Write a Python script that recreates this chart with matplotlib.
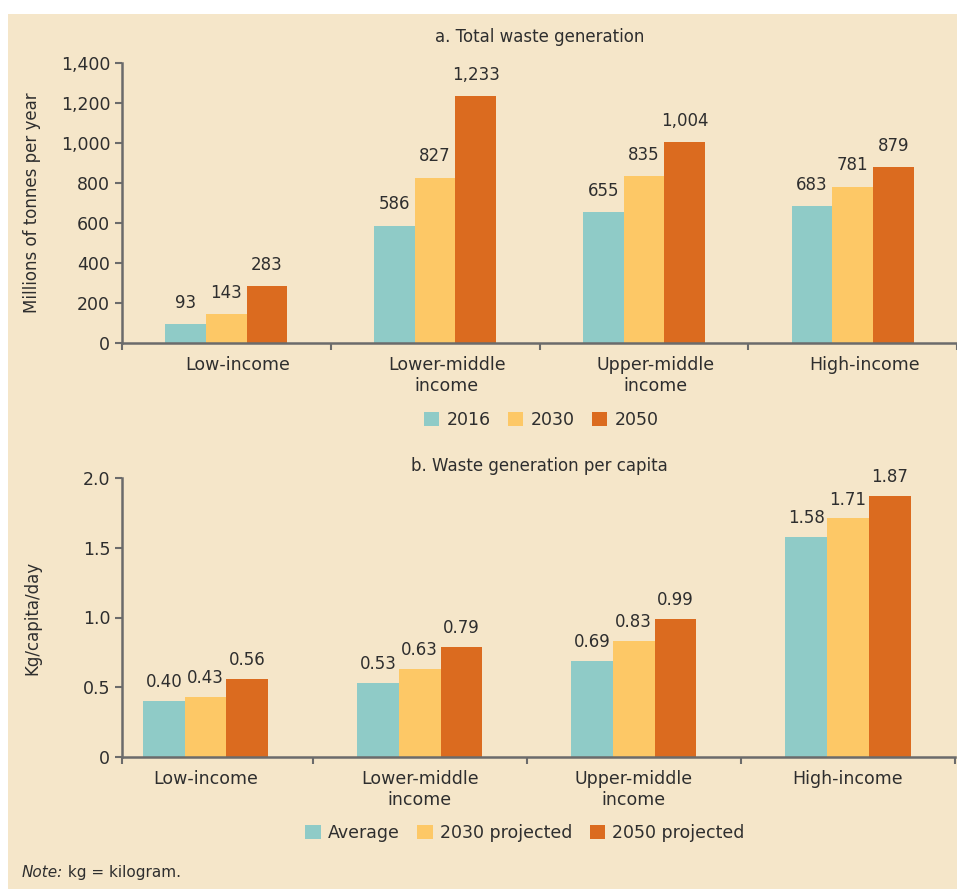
import numpy as np
import matplotlib
matplotlib.use("Agg")
import matplotlib.pyplot as plt
from matplotlib.patches import Rectangle
from matplotlib.ticker import FuncFormatter

# data
groups_top = ["Low-income", "Lower-middle\nincome", "Upper-middle\nincome", "High-income"]
total_2016 = [93, 586, 655, 683]
total_2030 = [143, 827, 835, 781]
total_2050 = [283, 1233, 1004, 879]
top_series = ["2016", "2030", "2050"]

groups_bottom = ["Low-income", "Lower-middle\nincome", "Upper-middle\nincome", "High-income"]
pc_avg = [0.40, 0.53, 0.69, 1.58]
pc_2030 = [0.43, 0.63, 0.83, 1.71]
pc_2050 = [0.56, 0.79, 0.99, 1.87]
bottom_series = ["Average", "2030 projected", "2050 projected"]

colors = ["#8fcbc7", "#fdc866", "#db6b1f"]
beige = "#f5e6c9"
text_c = "#2e2e2e"
axis_c = "#6b6b6b"

plt.rcParams["font.family"] = "DejaVu Sans"
plt.rcParams["text.color"] = text_c

W, H = 957, 889
fig = plt.figure(figsize=(9.57, 8.89), dpi=100, facecolor="white")
fig.patches.append(Rectangle((8 / W, 0), 1, 1 - 14 / H, transform=fig.transFigure,
                             facecolor=beige, edgecolor="none", zorder=-10))

ax1 = fig.add_axes([122 / W, 1 - 343 / H, (957 - 122) / W, (343 - 63) / H])
ax2 = fig.add_axes([122 / W, 1 - 757 / H, (955 - 122) / W, (757 - 478) / H])

bw = 0.195


def style(ax):
    ax.set_facecolor("none")
    for s in ["top", "right"]:
        ax.spines[s].set_visible(False)
    for s in ["left", "bottom"]:
        ax.spines[s].set_color(axis_c)
        ax.spines[s].set_linewidth(1.8)
    ax.tick_params(axis="both", which="major", color=axis_c, width=1.5, length=5,
                   labelsize=12.5, labelcolor=text_c)
    ax.tick_params(axis="x", which="major", labelbottom=False)
    ax.tick_params(axis="x", which="minor", length=0, labelsize=12.5,
                   labelcolor=text_c, pad=9.5)


# top panel
x = np.arange(len(groups_top))
for i, (vals, name) in enumerate(zip([total_2016, total_2030, total_2050], top_series)):
    bars = ax1.bar(x + (i - 1) * bw, vals, bw, color=colors[i], label=name)
    ax1.bar_label(bars, labels=[f"{v:,}" for v in vals], padding=9,
                  fontsize=12, color=text_c)
ax1.set_xlim(-0.5, 3.5)
ax1.set_ylim(0, 1400)
ax1.set_yticks(np.arange(0, 1401, 200))
ax1.yaxis.set_major_formatter(FuncFormatter(lambda v, p: f"{int(v):,}"))
ax1.set_xticks([-0.5, 0.5, 1.5, 2.5, 3.5])
ax1.set_xticks(x + 0.055, minor=True)
ax1.set_xticklabels(groups_top, minor=True)
style(ax1)
ax1.set_ylabel("Millions of tonnes per year", fontsize=12, color=text_c)
ax1.yaxis.set_label_coords(-81 / 835, 0.5)
fig.text(540 / W, 1 - 37 / H, "a. Total waste generation", ha="center", va="center",
         fontsize=12)
fig.legend(*ax1.get_legend_handles_labels(), loc="center", bbox_to_anchor=(541 / W, 1 - 420 / H),
           ncol=3, frameon=False, fontsize=12.5, handlelength=0.9, handleheight=0.9,
           handletextpad=0.4, columnspacing=1.0)

# bottom panel
x2 = np.arange(len(groups_bottom))
for i, (vals, name) in enumerate(zip([pc_avg, pc_2030, pc_2050], bottom_series)):
    bars = ax2.bar(x2 + (i - 1) * bw, vals, bw, color=colors[i], label=name)
    ax2.bar_label(bars, labels=[f"{v:.2f}" for v in vals], padding=7,
                  fontsize=12, color=text_c)
ax2.set_xlim(-0.39, 3.5)
ax2.set_ylim(0, 2.0)
ax2.set_yticks([0, 0.5, 1.0, 1.5, 2.0])
ax2.set_yticklabels(["0", "0.5", "1.0", "1.5", "2.0"])
ax2.set_xticks([-0.39, 0.5, 1.5, 2.5, 3.5])
ax2.set_xticks(x2, minor=True)
ax2.set_xticklabels(groups_bottom, minor=True)
style(ax2)
ax2.set_ylabel("Kg/capita/day", fontsize=12, color=text_c)
ax2.yaxis.set_label_coords(-81 / 833, 0.5)
fig.text(539 / W, 1 - 466 / H, "b. Waste generation per capita", ha="center", va="center",
         fontsize=12)
fig.legend(*ax2.get_legend_handles_labels(), loc="center", bbox_to_anchor=(525 / W, 1 - 833 / H),
           ncol=3, frameon=False, fontsize=12.5, handlelength=0.9, handleheight=0.9,
           handletextpad=0.4, columnspacing=1.0)

# note: italic "Note:" followed by plain text
note = fig.text(22 / W, 1 - 877 / H, "Note:", ha="left", va="baseline",
                fontsize=11, style="italic")
fig.canvas.draw()
bb = note.get_window_extent()
fig.text(bb.x1 / W, 1 - 877 / H, " kg = kilogram.", ha="left", va="baseline", fontsize=11)

fig.savefig("out.png", dpi=100, facecolor="white")
